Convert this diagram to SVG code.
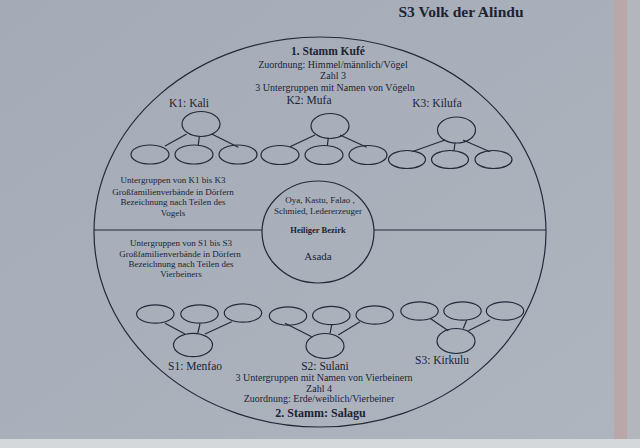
<svg xmlns="http://www.w3.org/2000/svg" width="640" height="448" viewBox="0 0 640 448">
<defs>
<linearGradient id="bg" x1="0" y1="0" x2="1" y2="1">
<stop offset="0" stop-color="#a4abb6"/>
<stop offset="1" stop-color="#aeb5bf"/>
</linearGradient>
</defs>
<style>
.t{font-family:"Liberation Serif","Times New Roman",serif;fill:#1c2333;text-anchor:middle}
.s{font-size:9px}
.m{font-size:10px}
.l{font-size:11.5px}
.b{font-weight:bold}
.sh{fill:none;stroke:#232a3a;stroke-width:1.2}
.c{stroke:#232a3a;stroke-width:1.2;fill:none}
</style>
<rect width="640" height="448" fill="url(#bg)"/>
<rect x="614" y="0" width="13" height="440" fill="#b9a7aa"/>
<rect x="627" y="0" width="13" height="440" fill="#b3b7bd"/>
<rect x="0" y="439" width="640" height="9" fill="#d4d8da"/>
<text class="t b" x="461" y="17" font-size="15.5">S3 Volk der Alindu</text>
<g id="outer">
<ellipse class="sh" cx="320" cy="232" rx="226" ry="195"/>
</g>
<g id="center">
<ellipse class="sh" cx="318" cy="232" rx="56" ry="51"/>
<text class="t s" x="320" y="203">Oya, Kastu, Falao ,</text>
<text class="t s" x="318" y="214">Schmied, Ledererzeuger</text>
<text class="t b" x="318" y="233" font-size="8.5px">Heiliger Bezirk</text>
<text class="t" x="318" y="260" font-size="11px">Asada</text>
</g>
<g id="connectors">
<line class="c" x1="94" y1="230" x2="262" y2="230"/>
<line class="c" x1="374" y1="230" x2="546" y2="230"/>
<line class="c" x1="186.7" y1="134" x2="165" y2="146"/>
<line class="c" x1="199.3" y1="136.7" x2="198.3" y2="145"/>
<line class="c" x1="211.7" y1="134" x2="238.3" y2="147.3"/>
<line class="c" x1="315" y1="135" x2="290" y2="146.7"/>
<line class="c" x1="328.3" y1="137.7" x2="327.3" y2="146"/>
<line class="c" x1="340" y1="135" x2="366.7" y2="147.3"/>
<line class="c" x1="445" y1="140" x2="412" y2="151.7"/>
<line class="c" x1="455" y1="142.7" x2="454" y2="151"/>
<line class="c" x1="463" y1="140" x2="490" y2="151.7"/>
<line class="c" x1="165" y1="323.3" x2="185" y2="334"/>
<line class="c" x1="200" y1="324" x2="197.7" y2="333.5"/>
<line class="c" x1="231.7" y1="321.7" x2="205" y2="334"/>
<line class="c" x1="285" y1="323.3" x2="311.7" y2="336.7"/>
<line class="c" x1="331.7" y1="325" x2="330" y2="333.5"/>
<line class="c" x1="360" y1="321.7" x2="338.3" y2="335"/>
<line class="c" x1="430" y1="318.3" x2="448.3" y2="330.7"/>
<line class="c" x1="466.7" y1="320" x2="463.3" y2="328.5"/>
<line class="c" x1="490" y1="320" x2="468.3" y2="330.7"/>
</g>
<g id="stamm1">
<text class="t b" x="328" y="55" font-size="11.5px">1. Stamm Kufé</text>
<text class="t m" x="333" y="67.5">Zuordnung: Himmel/männlich/Vögel</text>
<text class="t m" x="333" y="79">Zahl 3</text>
<text class="t m" x="335" y="91">3 Untergruppen mit Namen von Vögeln</text>
</g>
<g id="k1">
<text class="t l" x="189" y="107">K1: Kali</text>
<ellipse class="sh" cx="201" cy="124" rx="19" ry="12.5"/>
<ellipse class="sh" cx="150" cy="154.5" rx="19" ry="9.5"/>
<ellipse class="sh" cx="194" cy="154.5" rx="19" ry="9.5"/>
<ellipse class="sh" cx="238" cy="154.5" rx="19" ry="9.5"/>
</g>
<g id="k2">
<text class="t l" x="309" y="104">K2: Mufa</text>
<ellipse class="sh" cx="330" cy="126" rx="19" ry="12.5"/>
<ellipse class="sh" cx="280" cy="155" rx="19" ry="9.5"/>
<ellipse class="sh" cx="324" cy="155" rx="19" ry="9.5"/>
<ellipse class="sh" cx="368" cy="155" rx="19" ry="9.5"/>
</g>
<g id="k3">
<text class="t l" x="437" y="107">K3: Kilufa</text>
<ellipse class="sh" cx="456.5" cy="130" rx="19" ry="13"/>
<ellipse class="sh" cx="407" cy="159.5" rx="18.5" ry="9"/>
<ellipse class="sh" cx="450" cy="159.5" rx="18.5" ry="9"/>
<ellipse class="sh" cx="493.5" cy="159.5" rx="18.5" ry="9"/>
</g>
<g id="note-k">
<text class="t s" x="173" y="183">Untergruppen von K1 bis K3</text>
<text class="t s" x="173" y="194.5">Großfamilienverbände in Dörfern</text>
<text class="t s" x="173" y="205">Bezeichnung nach Teilen des</text>
<text class="t s" x="173" y="215.5">Vogels</text>
</g>
<g id="note-s">
<text class="t s" x="181" y="246">Untergruppen von S1 bis S3</text>
<text class="t s" x="180" y="257">Großfamilienverbände in Dörfern</text>
<text class="t s" x="181" y="267">Bezeichnung nach Teilen des</text>
<text class="t s" x="181" y="277">Vierbeiners</text>
</g>
<g id="s1">
<ellipse class="sh" cx="155.3" cy="314" rx="18.7" ry="9.2"/>
<ellipse class="sh" cx="199.5" cy="314" rx="18.7" ry="9.2"/>
<ellipse class="sh" cx="243" cy="313" rx="18.7" ry="9.2"/>
<ellipse class="sh" cx="193" cy="345" rx="19.5" ry="11.7"/>
<text class="t l" x="195" y="370">S1: Menfao</text>
</g>
<g id="s2">
<ellipse class="sh" cx="288" cy="316" rx="18.7" ry="9.2"/>
<ellipse class="sh" cx="331.3" cy="315.5" rx="18.7" ry="9.2"/>
<ellipse class="sh" cx="374.7" cy="315" rx="18.7" ry="9.2"/>
<ellipse class="sh" cx="325" cy="346" rx="19" ry="12.5"/>
<text class="t l" x="325" y="370">S2: Sulani</text>
</g>
<g id="s3">
<ellipse class="sh" cx="419.5" cy="311" rx="18.7" ry="9.2"/>
<ellipse class="sh" cx="462.5" cy="311" rx="18.7" ry="9.2"/>
<ellipse class="sh" cx="505" cy="311" rx="18.7" ry="9.2"/>
<ellipse class="sh" cx="456" cy="341" rx="19" ry="12.5"/>
<text class="t l" x="442" y="364">S3: Kirkulu</text>
</g>
<g id="stamm2">
<text class="t m" x="324" y="381">3 Untergruppen mit Namen von Vierbeinern</text>
<text class="t m" x="319" y="391.5">Zahl 4</text>
<text class="t m" x="319" y="402">Zuordnung: Erde/weiblich/Vierbeiner</text>
<text class="t b" x="320.5" y="417" font-size="12px">2. Stamm: Salagu</text>
</g>
</svg>
